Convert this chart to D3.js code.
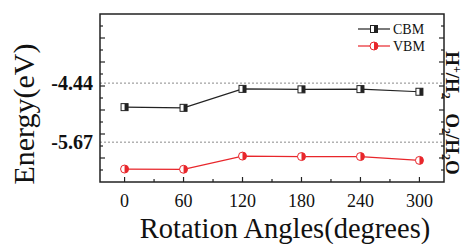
<!DOCTYPE html>
<html>
<head>
<meta charset="utf-8">
<script src="https://cdn.jsdelivr.net/npm/d3@7"></script>
<style>
  body { margin: 0; background: #fff; }
  svg { display: block; }
</style>
</head>
<body>
<div class="chart"></div>
<script>
// data
const angles = [0, 60, 120, 180, 240, 300];
const cbm = [-4.94, -4.955, -4.56, -4.57, -4.565, -4.62];
const vbm = [-6.23, -6.235, -5.96, -5.97, -5.97, -6.05];
const refLevels = [-4.44, -5.67];
const refLabels = ["-4.44", "-5.67"];
const series = [
    {name: "CBM", values: cbm, color: "#222"},
    {name: "VBM", values: vbm, color: "#e8262b"}
];

const width = 465;
const height = 244;
const margin = {top: 14, bottom: 63, left: 100, right: 21};
const serif = "'Liberation Serif', 'Times New Roman', serif";

const svg = d3.select(".chart")
    .append("svg")
    .attr("width", width)
    .attr("height", height);

const xScale = d3.scaleLinear()
    .domain([-25, 325])
    .range([margin.left, width - margin.right]);

const yScale = d3.scaleLinear()
    .domain([-6.5, -3])
    .range([height - margin.bottom + 1, margin.top]);

const x0 = margin.left, x1 = width - margin.right;
const y0 = height - margin.bottom + 1, y1 = margin.top;

// dashed reference lines
svg.selectAll(".ref")
    .data(refLevels)
    .join("line")
    .attr("x1", x0).attr("x2", x1)
    .attr("y1", d => yScale(d)).attr("y2", d => yScale(d))
    .attr("stroke", "#8a8a8a")
    .attr("stroke-width", 1)
    .attr("stroke-dasharray", "2,2");

// ticks, all pointing inward
const xTicks = d3.range(0, 301, 30);
svg.selectAll(".xtick")
    .data(xTicks)
    .join("line")
    .attr("x1", d => xScale(d)).attr("x2", d => xScale(d))
    .attr("y1", y0)
    .attr("y2", d => y0 - (d % 60 === 0 ? 5 : 3))
    .attr("stroke", "#222")
    .attr("stroke-width", 1.2);

const yTicks = d3.range(-6.25, -3.1, 0.25);
[x0, x1].forEach((xx, i) => {
    const dir = i === 0 ? 1 : -1;
    svg.append("g")
        .selectAll("line")
        .data(yTicks)
        .join("line")
        .attr("x1", xx)
        .attr("x2", d => xx + dir * (Math.abs(d * 2 - Math.round(d * 2)) < 1e-6 ? 5 : 3))
        .attr("y1", d => yScale(d)).attr("y2", d => yScale(d))
        .attr("stroke", "#222")
        .attr("stroke-width", 1.2);
});

// frame
svg.append("rect")
    .attr("x", x0).attr("y", y1)
    .attr("width", x1 - x0).attr("height", y0 - y1)
    .attr("fill", "none")
    .attr("stroke", "#222")
    .attr("stroke-width", 1.5);

// x tick labels
svg.selectAll(".xlab")
    .data(angles)
    .join("text")
    .text(d => d)
    .attr("x", d => xScale(d))
    .attr("y", 207)
    .attr("text-anchor", "middle")
    .attr("font-family", serif)
    .attr("font-size", 18)
    .attr("fill", "#111");

// y tick labels (only the reference levels)
svg.selectAll(".ylab")
    .data(refLevels)
    .join("text")
    .text((d, i) => refLabels[i])
    .attr("x", 93)
    .attr("y", d => yScale(d))
    .attr("dy", "0.35em")
    .attr("text-anchor", "end")
    .attr("font-family", serif)
    .attr("font-weight", "bold")
    .attr("font-size", 20)
    .attr("fill", "#111");

// axis titles
svg.append("text")
    .text("Rotation Angles(degrees)")
    .attr("x", 285)
    .attr("y", 238)
    .attr("text-anchor", "middle")
    .attr("font-family", serif)
    .attr("font-size", 28.5)
    .attr("fill", "#111");

svg.append("text")
    .text("Energy(eV)")
    .attr("transform", "translate(34, 114) rotate(-90)")
    .attr("text-anchor", "middle")
    .attr("font-family", serif)
    .attr("font-size", 30)
    .attr("fill", "#111");

// right side labels with super/subscripts
const rightLabel = (parts, cy) => {
    const t = svg.append("text")
        .attr("transform", `translate(446, ${cy}) rotate(90)`)
        .attr("text-anchor", "middle")
        .attr("font-family", serif)
        .attr("font-weight", "bold")
        .attr("font-size", 19)
        .attr("fill", "#111");
    let shift = 0;
    parts.forEach(p => {
        const dy = p.s - shift;
        shift = p.s;
        t.append("tspan")
            .text(p.t)
            .attr("dy", dy)
            .attr("font-size", p.s === 0 ? 19 : 12);
    });
};
rightLabel([{t: "H", s: 0}, {t: "+", s: -7}, {t: "/H", s: 0}, {t: "2", s: 4}], 75);
rightLabel([{t: "O", s: 0}, {t: "2", s: 4}, {t: "/H", s: 0}, {t: "2", s: 4}, {t: "O", s: 0}], 144);

// half filled markers
const drawMarker = (g, name, color, cx, cy) => {
    if (name === "CBM") {
        g.append("rect")
            .attr("x", cx - 3.5).attr("y", cy - 3.5)
            .attr("width", 7).attr("height", 7)
            .attr("fill", "#fff");
        g.append("rect")
            .attr("x", cx).attr("y", cy - 3.5)
            .attr("width", 3.5).attr("height", 7)
            .attr("fill", color);
        g.append("rect")
            .attr("x", cx - 3.5).attr("y", cy - 3.5)
            .attr("width", 7).attr("height", 7)
            .attr("fill", "none")
            .attr("stroke", color)
            .attr("stroke-width", 1);
    } else {
        g.append("circle")
            .attr("cx", cx).attr("cy", cy).attr("r", 4)
            .attr("fill", "#fff");
        g.append("path")
            .attr("d", `M${cx},${cy - 4} A4,4 0 0,1 ${cx},${cy + 4} Z`)
            .attr("fill", color);
        g.append("circle")
            .attr("cx", cx).attr("cy", cy).attr("r", 4)
            .attr("fill", "none")
            .attr("stroke", color)
            .attr("stroke-width", 1);
    }
};

const lineGenerator = d3.line()
    .x(d => xScale(d[0]))
    .y(d => yScale(d[1]));

series.forEach(s => {
    const pts = angles.map((a, i) => [a, s.values[i]]);
    svg.append("path")
        .attr("d", lineGenerator(pts))
        .attr("fill", "none")
        .attr("stroke", s.color)
        .attr("stroke-width", 1.2);
    const g = svg.append("g");
    pts.forEach(p => drawMarker(g, s.name, s.color, xScale(p[0]), yScale(p[1])));
});

// legend
series.forEach((s, i) => {
    const ly = 29 + i * 17;
    svg.append("line")
        .attr("x1", 358).attr("x2", 390)
        .attr("y1", ly).attr("y2", ly)
        .attr("stroke", s.color)
        .attr("stroke-width", 1.2);
    drawMarker(svg.append("g"), s.name, s.color, 374, ly);
    svg.append("text")
        .text(s.name)
        .attr("x", 393)
        .attr("y", ly)
        .attr("dy", "0.35em")
        .attr("font-family", serif)
        .attr("font-size", 14)
        .attr("fill", "#111");
});
</script>
</body>
</html>
